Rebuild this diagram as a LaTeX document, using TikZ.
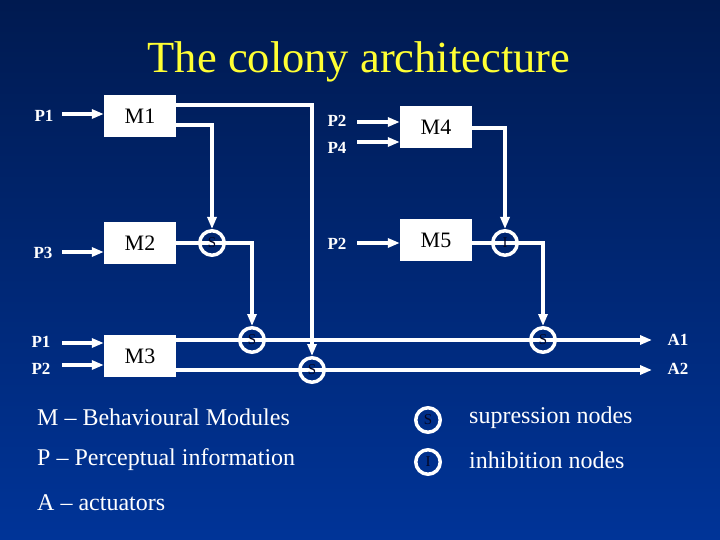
\documentclass[tikz,border=0pt]{standalone}
\usepackage{fontspec}
\setmainfont{Liberation Serif}
\usetikzlibrary{arrows.meta}
\definecolor{bgtop}{RGB}{0,26,80}
\definecolor{bgbot}{RGB}{0,52,152}
\definecolor{ink}{RGB}{4,6,36}
\definecolor{ttl}{RGB}{255,255,51}
\pgfdeclarelayer{bg}
\pgfdeclarelayer{wires}
\pgfsetlayers{bg,wires,main}
\begin{document}
\begin{tikzpicture}[x=1pt,y=-1pt,
  box/.style={fill=white,minimum width=72pt,minimum height=42pt,inner sep=0pt,
    font=\fontsize{22}{24}\selectfont,text=black},
  plab/.style={text=white,font=\fontsize{17}{18}\selectfont\bfseries,inner sep=0pt},
  wire/.style={draw=white,line width=3.5pt},
  arr/.style={wire,-{Triangle[length=12pt,width=9pt]}},
  knot/.style={circle,draw=white,line width=3.5pt,minimum size=24.5pt,inner sep=0pt,
    text=ink,font=\fontsize{15}{15}\selectfont},
  legend/.style={text=white,font=\fontsize{24}{26}\selectfont,anchor=west,inner sep=0pt}]
\begin{pgfonlayer}{bg}
  \shade[top color=bgtop,bottom color=bgbot] (0,0) rectangle (720,540);
\end{pgfonlayer}
\useasboundingbox (0,0) rectangle (720,540);

% title
\node[text=ttl,font=\fontsize{44.5}{48}\selectfont,anchor=base] (title) at (359,73) {The colony architecture};

% modules
\node[box] (M1) at (140,116) {M1};
\node[box] (M2) at (140,243) {M2};
\node[box] (M3) at (140,356) {M3};
\node[box] (M4) at (436,127.5) {M4};
\node[box] (M5) at (436,240) {M5};

% suppression / inhibition nodes
\node[knot] (s1) at (212,243) {S};
\node[knot] (s2) at (252,340) {S};
\node[knot] (s3) at (312,370) {S};
\node[knot] (i1) at (505,243) {I};
\node[knot] (s4) at (543,340) {S};

% perceptual labels
\node[plab] (lP1a) at (44,116) {P1};
\node[plab] (lP3)  at (43,253) {P3};
\node[plab] (lP1b) at (41,342) {P1};
\node[plab] (lP2b) at (41,369) {P2};
\node[plab] (lP2a) at (337,121) {P2};
\node[plab] (lP4)  at (337,148) {P4};
\node[plab] (lP2c) at (337,244) {P2};
\node[plab] (lA1)  at (678,340) {A1};
\node[plab] (lA2)  at (678,369) {A2};

\coordinate (in1) at (62,114);
\coordinate (in2) at (62,252);
\coordinate (in3) at (62,343);
\coordinate (in4) at (62,365);
\coordinate (in5) at (357,122);
\coordinate (in6) at (357,142);
\coordinate (in7) at (357,243);
\coordinate (a1e) at (652,340);
\coordinate (a2e) at (652,370);

\begin{pgfonlayer}{wires}
  \draw[arr] (in1) -- (in1 -| M1.west);
  \draw[arr] (in2) -- (in2 -| M2.west);
  \draw[arr] (in3) -- (in3 -| M3.west);
  \draw[arr] (in4) -- (in4 -| M3.west);
  \draw[arr] (in5) -- (in5 -| M4.west);
  \draw[arr] (in6) -- (in6 -| M4.west);
  \draw[arr] (in7) -- (in7 -| M5.west);

  \draw[arr] ([yshift=11pt]M1.east) -| (s3.north);
  \draw[arr] ([yshift=-9pt]M1.east) -| (s1.north);
  \draw[arr] (M2.east) -- (s1.center) -| (s2.north);
  \draw[arr] ([yshift=-0.5pt]M4.east) -| (i1.north);
  \draw[arr] ([yshift=-3pt]M5.east) -- (i1.center) -| (s4.north);
  \draw[arr] ([yshift=16pt]M3.east) -- (a1e);
  \draw[arr] ([yshift=-14pt]M3.east) -- (a2e);
\end{pgfonlayer}

% legend
\node[legend] (lgM) at (37,417) {M – Behavioural Modules};
\node[legend] (lgP) at (37,460) {P – Perceptual information};
\node[legend] (lgA) at (37,503) {A – actuators};
\node[knot] (lgS) at (428,420) {S};
\node[knot] (lgI) at (428,462) {I};
\node[legend] (lgSt) at (469,418) {supression nodes};
\node[legend] (lgIt) at (469,460) {inhibition nodes};
\end{tikzpicture}
\end{document}
